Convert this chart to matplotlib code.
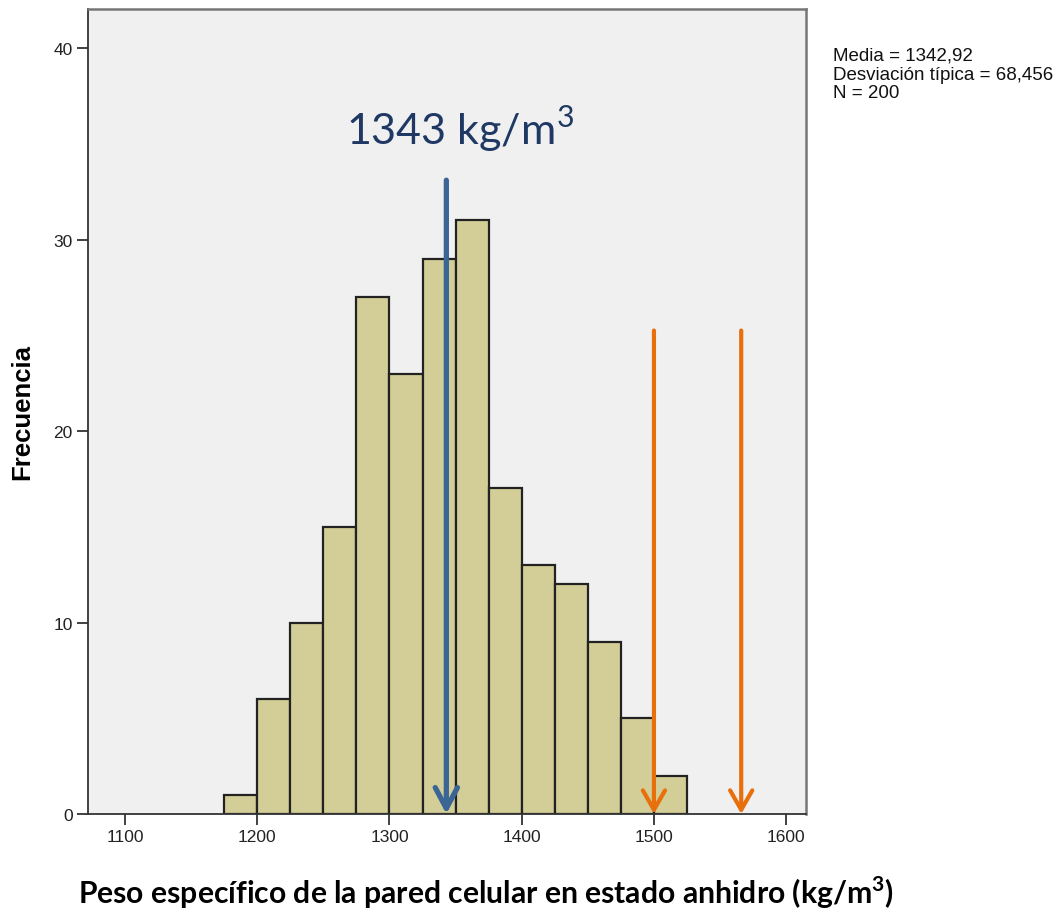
import matplotlib.pyplot as plt
import numpy as np
from matplotlib.patches import FancyArrowPatch

# datos del histograma
bin_edges = [1175, 1200, 1225, 1250, 1275, 1300, 1325, 1350, 1375, 1400, 1425, 1450, 1475, 1500, 1525]
counts = [1, 6, 10, 15, 27, 23, 29, 31, 17, 13, 12, 9, 5, 2]

stats_lines = ['Media = 1342,92', 'Desviación típica = 68,456', 'N = 200']

# flechas
mean_x = 1343
mean_top = 33.1
orange_x = [1500, 1566]
orange_top = 25.25

plt.rcParams['mathtext.fontset'] = 'custom'
plt.rcParams['mathtext.rm'] = 'Lato'
plt.rcParams['mathtext.bf'] = 'Lato:bold'

fig = plt.figure(figsize=(10.63, 9.12), dpi=100)
ax = fig.add_axes([88 / 1063, 1 - 815 / 912, (806 - 88) / 1063, (815 - 10) / 912])
ax.set_facecolor('#f0f0f0')

left = np.array(bin_edges[:-1])
widths = np.diff(bin_edges)
ax.bar(left, counts, width=widths, align='edge', color='#d3ce97',
       edgecolor='#222222', linewidth=1.6, zorder=2)

ax.set_xlim(1072, 1615)
ax.set_ylim(0, 42.04)
ax.set_xticks([1100, 1200, 1300, 1400, 1500, 1600])
ax.set_yticks([0, 10, 20, 30, 40])
ax.tick_params(direction='out', length=8, width=1.3, color='#333333',
               labelsize=12.5, labelcolor='#222222', pad=3,
               labelfontfamily='Liberation Sans')
for s in ['left', 'bottom']:
    ax.spines[s].set_linewidth(1.3)
    ax.spines[s].set_color('#333333')
for s in ['top', 'right']:
    ax.spines[s].set_linewidth(1.8)
    ax.spines[s].set_color('#777777')

ax.set_ylabel('Frecuencia', family='Liberation Sans', fontweight='bold',
              fontsize=18.5, labelpad=14)

# flecha azul (media)
arr = FancyArrowPatch((mean_x, mean_top), (mean_x, 0),
                      arrowstyle='->,head_length=0.75,head_width=0.4',
                      mutation_scale=20, color='#3a6595', linewidth=3.8,
                      zorder=4, shrinkA=0, shrinkB=0)
ax.add_patch(arr)
for xo in orange_x:
    a = FancyArrowPatch((xo, orange_top), (xo, 0),
                        arrowstyle='->,head_length=0.7,head_width=0.4',
                        mutation_scale=20, color='#e8700c', linewidth=3.0,
                        zorder=4, shrinkA=0, shrinkB=0)
    ax.add_patch(a)

ax.text(1353, 35.8, '1343 kg/m$^\\mathregular{3}$', family='Lato', fontsize=31,
        color='#1f3864', ha='center', va='center', zorder=5)

fig.text(833 / 1063, 1 - 75 / 912, '\n'.join(stats_lines), family='Liberation Sans',
         fontsize=13.5, color='#111111', ha='left', va='center', linespacing=1.15)

fig.text(486 / 1063, 1 - 893 / 912, 'Peso específico de la pared celular en estado anhidro (kg/m$^\\mathregular{\\mathbf{3}}$)',
         family='Lato', fontweight='bold', fontsize=21.7, ha='center', va='center', color='black')

fig.savefig('out.png', dpi=100)
